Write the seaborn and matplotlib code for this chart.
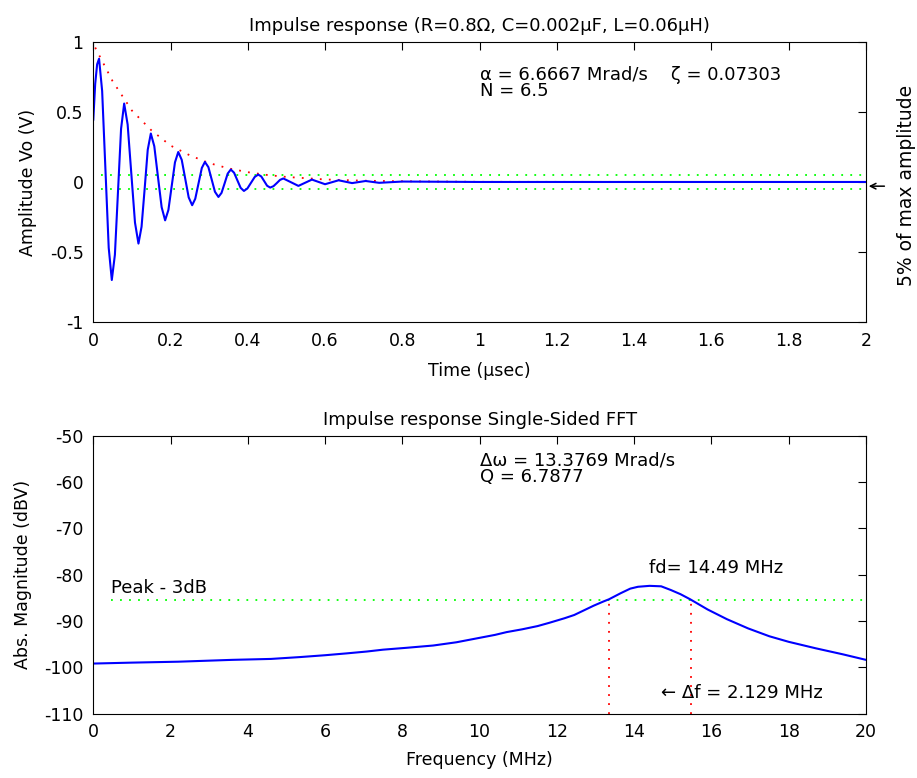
import numpy as np
import pandas as pd
import matplotlib
matplotlib.use("Agg")
import matplotlib.pyplot as plt
import seaborn as sns

# impulse response
t_us = [0.000, 0.005, 0.010, 0.015, 0.023, 0.0315, 0.040, 0.048,
        0.056, 0.064, 0.072, 0.080, 0.089, 0.0985, 0.108, 0.117,
        0.125, 0.133, 0.141, 0.149, 0.158, 0.1675, 0.177, 0.186,
        0.1945, 0.203, 0.2115, 0.220, 0.229, 0.238, 0.247, 0.256,
        0.264, 0.2725, 0.281, 0.289, 0.298, 0.3065, 0.315, 0.324,
        0.332, 0.340, 0.348, 0.356, 0.3645, 0.373, 0.3815, 0.390,
        0.399, 0.4085, 0.418, 0.427, 0.435, 0.4425, 0.450, 0.458,
        0.4665, 0.475, 0.4835, 0.492, 0.531, 0.566, 0.600, 0.635,
        0.670, 0.705, 0.740, 0.800, 1.000, 1.500, 2.000]
vo = [0.44, 0.70, 0.84, 0.88, 0.65, 0.09, -0.47, -0.70,
      -0.52, -0.07, 0.38, 0.56, 0.41, 0.06, -0.29, -0.44,
      -0.32, -0.05, 0.23, 0.346, 0.255, 0.036, -0.18, -0.274,
      -0.20, -0.03, 0.14, 0.214, 0.158, 0.024, -0.11, -0.166,
      -0.12, -0.01, 0.10, 0.143, 0.106, 0.018, -0.07, -0.107,
      -0.078, -0.01, 0.06, 0.089, 0.066, 0.012, -0.042, -0.064,
      -0.046, -0.005, 0.036, 0.053, 0.039, 0.006, -0.027, -0.040,
      -0.030, -0.008, 0.015, 0.025, -0.028, 0.017, -0.016, 0.012,
      -0.008, 0.007, -0.006, 0.003, 0.0, 0.0, 0.0]

# decay envelope
env_t = [0.005, 0.05, 0.10, 0.15, 0.20, 0.25, 0.30, 0.35, 0.40, 0.45,
         0.50, 0.60, 0.70, 0.80, 1.00, 2.00]
env_v = [0.96, 0.72, 0.51, 0.37, 0.26, 0.19, 0.135, 0.097, 0.07, 0.05,
         0.036, 0.018, 0.009, 0.005, 0.001, 0.0]

band = 0.05

# single sided FFT
f_mhz = [0, 1, 2.2, 3.6, 4.6, 5.35, 6.0, 6.56, 7.08, 7.5, 8.1, 8.8, 9.4,
         9.9, 10.4, 10.7, 11.1, 11.5, 11.8, 12.2, 12.45, 12.7, 12.95,
         13.2, 13.35, 13.65, 13.9, 14.1, 14.4, 14.7, 14.95, 15.2, 15.45,
         15.9, 16.4, 16.95, 17.5, 18.0, 18.7, 19.4, 20]
mag_db = [-99.2, -99.0, -98.8, -98.4, -98.2, -97.8, -97.4, -97.0, -96.6,
          -96.2, -95.8, -95.3, -94.6, -93.8, -93.0, -92.4, -91.8, -91.1,
          -90.4, -89.4, -88.7, -87.7, -86.7, -85.8, -85.3, -84.0, -83.0,
          -82.6, -82.4, -82.5, -83.3, -84.2, -85.3, -87.5, -89.6, -91.6,
          -93.3, -94.5, -95.9, -97.2, -98.4]

peak_3db = -85.4
f_low, f_high = 13.35, 15.48

sns.set_style("white")
plt.rcParams['font.family'] = ['DejaVu Sans']
plt.rcParams['axes.unicode_minus'] = False
plt.rcParams['text.color'] = 'black'
plt.rcParams['axes.labelcolor'] = 'black'

fs = 12.5
fig = plt.figure(figsize=(9.17, 7.78), dpi=100)
ax1 = fig.add_axes([0.1017, 0.5861, 0.8426, 0.3600])
ax2 = fig.add_axes([0.1017, 0.0829, 0.8426, 0.3567])

dots = (0, (1, 4))

# top plot
ax1.hlines([band, -band], 0.02, 2, colors=(0, 1, 0), linestyles=dots, lw=1.3)
sns.lineplot(data=pd.DataFrame({'t': env_t, 'v': env_v}), x='t', y='v',
             ax=ax1, color=(1, 0, 0), lw=1.3, linestyle=dots)
sns.lineplot(data=pd.DataFrame({'t': t_us, 'v': vo}), x='t', y='v',
             ax=ax1, color=(0, 0, 1), lw=1.5)
ax1.set_xlim(0, 2)
ax1.set_ylim(-1, 1)
ax1.set_xticks(np.arange(0, 2.01, 0.2))
ax1.set_xticklabels([f'{v:g}' for v in np.arange(0, 2.01, 0.2).round(1)])
ax1.set_yticks([-1, -0.5, 0, 0.5, 1])
ax1.set_yticklabels(['-1', '-0.5', '0', '0.5', '1'])
ax1.set_title('Impulse response (R=0.8\u03a9, C=0.002\u03bcF, L=0.06\u03bcH)',
              fontsize=13, pad=8, color='black')
ax1.set_xlabel('Time (\u03bcsec)', fontsize=fs, labelpad=9)
ax1.set_ylabel('Amplitude Vo (V)', fontsize=fs, labelpad=9)
ax1.text(1.0, 0.83, '\u03b1 = 6.6667 Mrad/s    \u03b6 = 0.07303\nN = 6.5',
         fontsize=13, va='top', ha='left', linespacing=0.9)
ax1.annotate('', xy=(2, -0.03), xytext=(2.055, -0.03),
             arrowprops=dict(arrowstyle='->', color='k', lw=1.1),
             annotation_clip=False)
fig.text(0.9888, 0.762, '5% of max amplitude', rotation=90,
         ha='center', va='center', fontsize=13.5)

# bottom plot
ax2.hlines(peak_3db, 0.45, 20, colors=(0, 1, 0), linestyles=dots, lw=1.3)
ax2.vlines([f_low, f_high], -110, peak_3db, colors=(1, 0, 0),
           linestyles=dots, lw=1.3)
sns.lineplot(data=pd.DataFrame({'f': f_mhz, 'db': mag_db}), x='f', y='db',
             ax=ax2, color=(0, 0, 1), lw=1.5)
ax2.set_xlim(0, 20)
ax2.set_ylim(-110, -50)
ax2.set_xticks(range(0, 21, 2))
ax2.set_yticks(range(-110, -49, 10))
ax2.set_title('Impulse response Single-Sided FFT', fontsize=13, pad=8,
              color='black')
ax2.set_xlabel('Frequency (MHz)', fontsize=fs, labelpad=7)
ax2.set_ylabel('Abs. Magnitude (dBV)', fontsize=fs, labelpad=9)
ax2.text(10.0, -53.3, '\u0394\u03c9 = 13.3769 Mrad/s\nQ = 6.7877',
         fontsize=13, va='top', ha='left', linespacing=0.9)
ax2.text(0.45, -84.0, 'Peak - 3dB', fontsize=13, va='baseline')
ax2.text(14.39, -79.7, 'fd= 14.49 MHz', fontsize=13, va='baseline')
ax2.text(14.69, -106.7, '\u2190 \u0394f = 2.129 MHz', fontsize=13,
         va='baseline')

for ax in (ax1, ax2):
    ax.tick_params(direction='in', top=True, right=True, length=6,
                   width=0.8, labelsize=fs, pad=7, colors='k')
    for s in ax.spines.values():
        s.set_visible(True)
        s.set_color('k')
        s.set_linewidth(0.8)

fig.savefig('out.png', dpi=100, facecolor='white')
